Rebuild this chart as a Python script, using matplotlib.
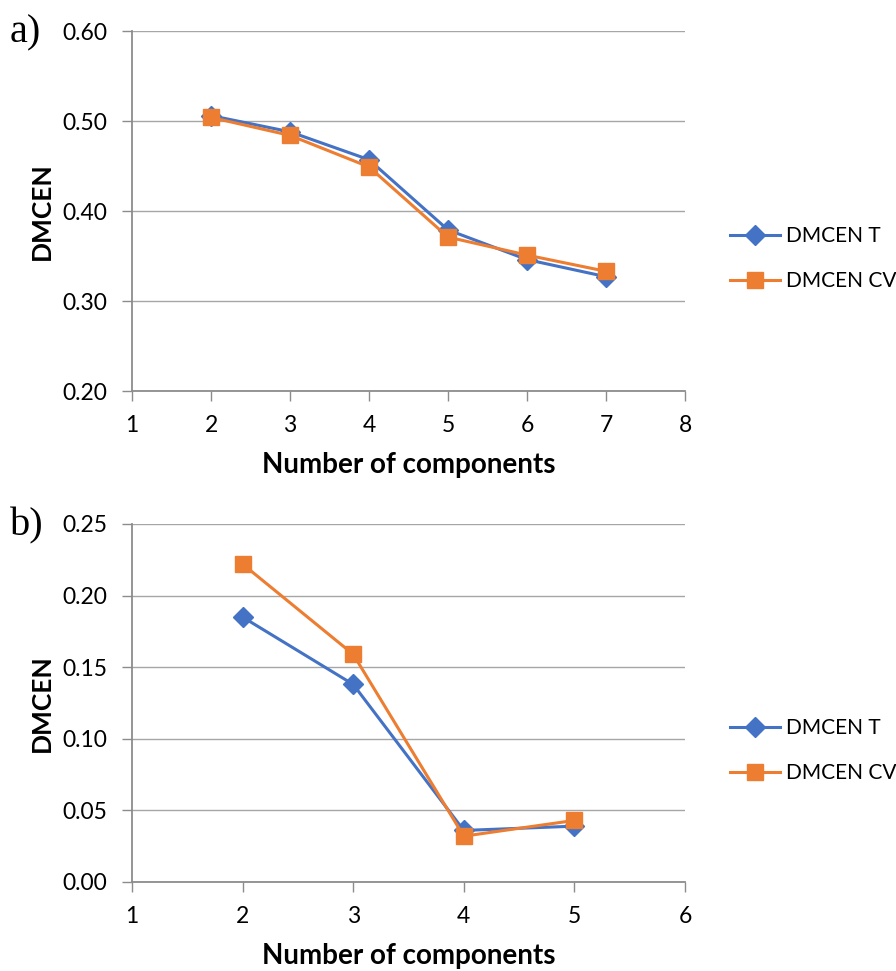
import matplotlib
matplotlib.use("Agg")
import matplotlib.pyplot as plt

# Panel a data
xa = [2, 3, 4, 5, 6, 7]
a_T = [0.506, 0.488, 0.457, 0.379, 0.346, 0.327]
a_CV = [0.504, 0.484, 0.449, 0.371, 0.351, 0.333]

# Panel b data
xb = [2, 3, 4, 5]
b_T = [0.185, 0.138, 0.036, 0.039]
b_CV = [0.222, 0.159, 0.032, 0.043]

a_yticks = [0.20, 0.30, 0.40, 0.50, 0.60]
b_yticks = [0.00, 0.05, 0.10, 0.15, 0.20, 0.25]
a_xticks = [1, 2, 3, 4, 5, 6, 7, 8]
b_xticks = [1, 2, 3, 4, 5, 6]

series_names = ["DMCEN T", "DMCEN CV"]
BLUE = "#4472C4"
ORANGE = "#ED7D31"
GRID = "#A6A6A6"
SPINE = "#8C8C8C"
FONT = ["Lato", "DejaVu Sans"]

plt.rcParams['font.family'] = FONT

fig = plt.figure(figsize=(8.96, 9.71), dpi=100)
W, H = 896, 971

def make_ax(top, bottom, x, yT, yCV, yticks, xticks, letter, ylim, xlim, fmt):
    ax = fig.add_axes([132 / W, 1 - bottom / H, 553 / W, (bottom - top) / H])
    ax.plot(x, yT, color=BLUE, lw=2.2, marker="D", ms=10, label=series_names[0], zorder=3)
    ax.plot(x, yCV, color=ORANGE, lw=2.2, marker="s", ms=11.5, label=series_names[1], zorder=4)
    ax.set_ylim(*ylim)
    ax.set_xlim(*xlim)
    ax.set_yticks(yticks)
    ax.set_yticklabels([fmt.format(v) for v in yticks])
    ax.set_xticks(xticks)
    ax.grid(axis="y", color=GRID, lw=1.0)
    ax.set_axisbelow(True)
    for s in ["top", "right"]:
        ax.spines[s].set_visible(False)
    for s in ["left", "bottom"]:
        ax.spines[s].set_color(SPINE)
        ax.spines[s].set_linewidth(1.3)
    ax.tick_params(axis="both", colors=SPINE, length=7, width=1.0, labelsize=16.5,
                   labelcolor="black")
    ax.tick_params(axis="y", pad=11)
    ax.tick_params(axis="x", pad=10)
    ax.set_ylabel("DMCEN", fontsize=19, fontweight="bold", labelpad=6)
    ax.set_xlabel("Number of components", fontsize=20, fontweight="bold", labelpad=12)
    ax.legend(loc="center left", bbox_to_anchor=(598 / 553, 0.367), frameon=False,
              fontsize=15, handlelength=2.4, labelspacing=1.2, handletextpad=0.3,
              borderaxespad=0, borderpad=0)
    fig.text(10 / W, 1 - (top + 2) / H, letter, fontsize=29,
             family=["Liberation Serif", "DejaVu Serif"], va="center", ha="left")
    return ax

make_ax(31, 391, xa, a_T, a_CV, a_yticks, a_xticks, "a)", (0.2, 0.6), (1, 8), "{:.2f}")
make_ax(524, 882, xb, b_T, b_CV, b_yticks, b_xticks, "b)", (0.0, 0.25), (1, 6), "{:.2f}")

fig.savefig("out.png", dpi=100)
